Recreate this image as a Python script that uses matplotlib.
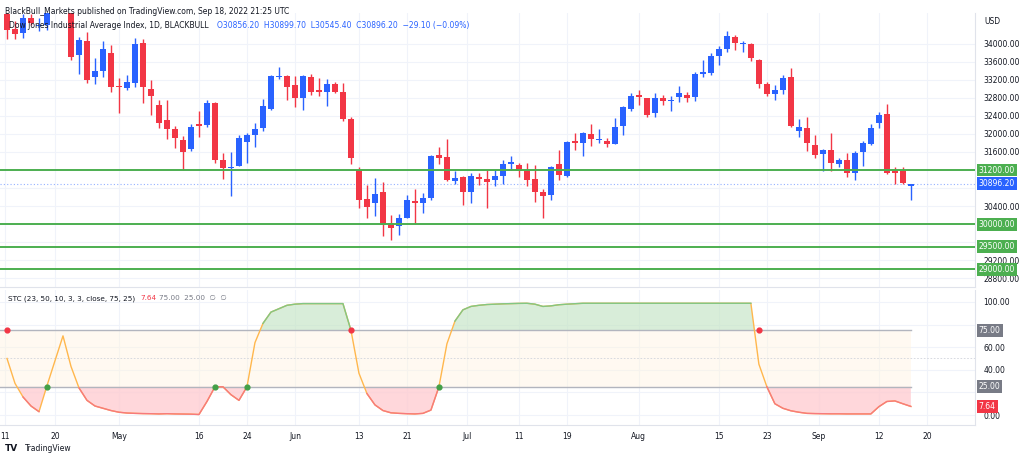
import matplotlib
matplotlib.use("Agg")
import matplotlib.pyplot as plt
import numpy as np

# daily OHLC (BLACKBULL US30, 1D), Apr 11 -> Sep 16 2022
opens = [34660, 34330, 34230, 34570, 34400, 34420, 34910, 35170, 34790, 33750,
         34050, 33260, 33400, 33800, 33070, 33020, 33120, 34010, 33000, 32640,
         32310, 32100, 31870, 31660, 32220, 32190, 32680, 31420, 31250, 31300,
         31820, 31980, 32130, 32550, 33260, 33290, 33090, 32790, 33260, 32980,
         32920, 33110, 32920, 32330, 31210, 30550, 30460, 30710, 30020, 29960,
         30140, 30520, 30460, 30570, 31530, 31480, 30960, 31040, 30720, 31050,
         30990, 30980, 31070, 31330, 31310, 31180, 31000, 30710, 30640, 31330,
         31070, 31850, 31810, 32000, 31870, 31850, 31780, 32180, 32550, 32870,
         32790, 32460, 32790, 32720, 32810, 32870, 32810, 33320, 33340, 33730,
         33880, 34150, 34000, 34000, 33630, 33110, 32890, 32980, 33260, 32070,
         32130, 31750, 31550, 31640, 31330, 31420, 31130, 31590, 31780, 32250,
         32440, 31180, 31170, 30856.2]
highs = [34700, 34500, 34660, 34670, 34580, 34950, 35250, 35490, 34870, 34150,
         34270, 33690, 34070, 33980, 33240, 33300, 34120, 34110, 33200, 32750,
         32750, 32170, 31950, 32230, 32510, 32750, 32700, 31580, 31590, 31980,
         32020, 32250, 32770, 33300, 33480, 33300, 33290, 33310, 33330, 33240,
         33220, 33150, 33130, 32370, 31270, 30870, 31030, 30940, 30200, 30220,
         30640, 30770, 30700, 31530, 31700, 31880, 31180, 31060, 31130, 31130,
         31210, 31190, 31420, 31510, 31350, 31350, 31310, 30790, 31290, 31640,
         31850, 32010, 32050, 32220, 32100, 31920, 32350, 32620, 32900, 32980,
         32800, 32900, 32870, 32830, 33060, 32930, 33380, 33650, 33790, 33950,
         34280, 34190, 34070, 34020, 33660, 33150, 33090, 33310, 33460, 32330,
         32380, 31980, 31660, 32030, 31460, 31580, 31630, 31850, 32220, 32490,
         32660, 31270, 31270, 30899.7]
lows = [34110, 34100, 34130, 34420, 34290, 34300, 34850, 34750, 33640, 33330,
        33130, 33110, 33260, 32920, 32460, 32980, 33040, 32690, 32430, 32130,
        31880, 31690, 31200, 31620, 31940, 32150, 31360, 30990, 30620, 31280,
        31350, 31720, 32060, 32530, 33220, 32750, 32590, 32530, 32870, 32830,
        32620, 32900, 32280, 31340, 30350, 30130, 30190, 29730, 29650, 29760,
        30130, 30000, 30240, 30530, 31330, 30960, 30880, 30420, 30460, 30870,
        30350, 30850, 30900, 31200, 31050, 30840, 30500, 30130, 30530, 30980,
        31050, 31640, 31510, 31730, 31810, 31710, 31770, 31980, 32500, 32640,
        32380, 32380, 32640, 32500, 32700, 32700, 32720, 33270, 33310, 33530,
        33810, 33850, 33810, 33620, 33020, 32850, 32750, 32890, 32160, 31940,
        31630, 31460, 31180, 31180, 31260, 31050, 30980, 31290, 31750, 32140,
        31110, 30890, 30890, 30545.4]
closes = [34308, 34220, 34570, 34450, 34420, 34910, 35160, 34790, 33700, 34090,
          33200, 33400, 33880, 33050, 33030, 33160, 34000, 33040, 32830, 32250,
          32120, 31920, 31610, 32150, 32180, 32680, 31420, 31240, 31270, 31900,
          31980, 32100, 32610, 33290, 33280, 33050, 32790, 33290, 32920, 32920,
          33110, 32920, 32330, 31460, 30540, 30370, 30660, 29980, 29910, 30130,
          30540, 30460, 30570, 31500, 31460, 30980, 31030, 30720, 31070, 30990,
          30940, 31070, 31330, 31370, 31180, 30980, 30710, 30620, 31270, 31090,
          31830, 31810, 32010, 31880, 31890, 31780, 32160, 32590, 32840, 32820,
          32420, 32790, 32740, 32750, 32900, 32790, 33330, 33380, 33730, 33880,
          34170, 34020, 34010, 33690, 33110, 32890, 32980, 33240, 32180, 32150,
          31810, 31530, 31640, 31360, 31420, 31140, 31570, 31790, 32130, 32420,
          31130, 31140, 30910, 30896.2]

stc = [50, 28, 16, 8, 3, 26, 48, 70, 43, 24,
       13, 8, 6, 4, 2.5, 1.8, 1.5, 1.3, 1.2, 1.0,
       1.2, 1.0, 0.9, 0.8, 0.5, 12, 25, 25, 18, 13,
       25, 64, 81, 91, 94, 97, 98, 98.5, 98.5, 98.5,
       98.5, 98.5, 98.5, 75, 37, 19, 9, 4, 2, 1.5,
       1.2, 1, 1.5, 4.4, 25, 63, 83, 93, 96, 97,
       97.7, 98, 98.3, 98.5, 98.7, 98.8, 98, 96, 96.5, 97.5,
       98, 98.4, 98.8, 98.8, 98.8, 98.8, 98.8, 98.8, 98.8, 98.8,
       98.8, 98.8, 98.8, 98.8, 98.8, 98.8, 98.8, 98.8, 98.8, 98.8,
       98.8, 98.8, 98.8, 98.8, 45, 25, 10, 6, 3.8, 2.5,
       1.5, 1.3, 1.2, 1.1, 1.1, 1, 1, 1, 1, 7.4,
       12, 12.5, 10, 7.64]
cross_down = [0, 43, 94]
cross_up = [5, 26, 30, 54]

levels = [31200, 30000, 29500, 29000]
last_price = 30896.20
price_ticks = [28800, 29200, 29600, 30000, 30400, 30800, 31200, 31600,
               32000, 32400, 32800, 33200, 33600, 34000]
hidden_price_ticks = [29600, 30000, 30800, 31200]   # covered by the level tags
stc_ticks = [0, 20, 40, 60, 80, 100]
hidden_stc_ticks = [20, 80]
date_pos = [-0.25, 6, 14, 24, 30, 36, 44, 50, 57.5, 64, 70, 79, 89, 95, 101.5, 109, 115]
date_labels = ["11", "20", "May", "16", "24", "Jun", "13", "21", "Jul", "11",
               "19", "Aug", "15", "23", "Sep", "12", "20"]

BLUE = "#2962ff"
RED = "#f23645"
GREEN = "#4caf50"
GRID = "#f0f3fa"
TXT = "#131722"

fig = plt.figure(figsize=(10.24, 4.58), dpi=100)
ax = fig.add_axes([0.0, 0.373, 0.952, 0.599])
ax2 = fig.add_axes([0.0, 0.072, 0.952, 0.295], sharex=ax)

x = np.arange(len(closes))
o = np.array(opens); c = np.array(closes)
colors = [BLUE if cc >= oo else RED for oo, cc in zip(o, c)]
bottoms = np.minimum(o, c)
heights = np.maximum(np.abs(c - o), 8)
ax.vlines(x, lows, highs, colors=colors, linewidth=1, zorder=3)
ax.bar(x, heights, bottom=bottoms, width=0.7, color=colors, zorder=4)

for lv in levels:
    ax.axhline(lv, color=GREEN, linewidth=1.4, zorder=5)
ax.axhline(last_price, color=BLUE, linewidth=0.8, linestyle=(0, (1, 2)), alpha=0.5, zorder=2)

ax.set_ylim(28603, 34685)
ax.set_xlim(-0.875, 121)
ax.set_yticks(price_ticks)
ax.set_yticklabels(["" if t in hidden_price_ticks else "%.2f" % t for t in price_ticks])
ax.yaxis.tick_right()
ax.tick_params(axis="y", length=0, labelsize=5.5, labelcolor=TXT, pad=6)
ax.tick_params(axis="x", length=0, labelbottom=False)
ax.set_xticks(date_pos)
ax.grid(True, color=GRID, linewidth=0.8)
ax.set_axisbelow(True)
for sp in ["top", "left"]:
    ax.spines[sp].set_visible(False)
ax.spines["right"].set_color("#e0e3eb")
ax.spines["bottom"].set_color("#e0e3eb")

def tag(axis, y, text, fc):
    axis.text(1.004, y, text, transform=axis.get_yaxis_transform(), fontsize=5.5,
              color="white", va="center", ha="left", zorder=10, clip_on=False,
              bbox=dict(boxstyle="square,pad=0.25", fc=fc, ec="none"))

for lv in levels:
    tag(ax, lv, "%.2f" % lv, GREEN)
tag(ax, last_price, "%.2f" % last_price, BLUE)
ax.text(1.01, 0.985, "USD", transform=ax.transAxes, fontsize=5.5, color=TXT,
        va="top", clip_on=False)

# STC pane
s = np.array(stc)
ax2.fill_between([-0.875, x[-1]], 25, 75, color="#fff3e0", alpha=0.45, linewidth=0)
ax2.fill_between(x, s, 75, where=s >= 75, interpolate=True, color="#c8e6c9", alpha=0.7, linewidth=0)
ax2.fill_between(x, s, 25, where=s <= 25, interpolate=True, color="#ffcdd2", alpha=0.8, linewidth=0)
ax2.plot([-0.875, x[-1]], [75, 75], color="#b2b5be", linewidth=1)
ax2.plot([-0.875, x[-1]], [25, 25], color="#b2b5be", linewidth=1)
ax2.axhline(50, color="#d1d4dc", linewidth=0.6, linestyle=(0, (2, 2)))
ax2.plot(x, s, color="#ffb74d", linewidth=1, zorder=3)
ax2.plot(x, np.ma.masked_where(s < 75, s), color="#81c784", linewidth=1, zorder=4)
ax2.plot(x, np.ma.masked_where(s > 25, s), color="#f7797d", linewidth=1, zorder=4)
ax2.scatter(cross_down, [75] * len(cross_down), s=12, color=RED, zorder=6)
ax2.scatter(cross_up, [25] * len(cross_up), s=12, color="#43a047", zorder=6)
ax2.set_ylim(-8.8, 110.6)
ax2.set_yticks(stc_ticks)
ax2.set_yticklabels(["" if t in hidden_stc_ticks else "%.2f" % t for t in stc_ticks])
ax2.yaxis.tick_right()
ax2.tick_params(axis="y", length=0, labelsize=5.5, labelcolor=TXT, pad=6)
ax2.set_xticks(date_pos)
ax2.set_xticklabels(date_labels)
ax2.tick_params(axis="x", length=0, labelsize=5.5, labelcolor=TXT, pad=5)
ax2.grid(True, color=GRID, linewidth=0.8)
ax2.set_axisbelow(True)
for sp in ["top", "left"]:
    ax2.spines[sp].set_visible(False)
ax2.spines["right"].set_color("#e0e3eb")
ax2.spines["bottom"].set_color("#e0e3eb")
tag(ax2, 75, "75.00", "#787b86")
tag(ax2, 25, "25.00", "#787b86")
tag(ax2, stc[-1], "%.2f" % stc[-1], RED)

# header texts, the second part of each line placed after the first one
fig.text(0.005, 0.985, "BlackBull_Markets published on TradingView.com, Sep 18, 2022 21:25 UTC",
         fontsize=5.5, color=TXT, va="top")
title = fig.text(0.009, 0.955, "Dow Jones Industrial Average Index, 1D, BLACKBULL",
                 fontsize=5.5, color=TXT, va="top")
stc_lbl = fig.text(0.008, 0.355, "STC (23, 50, 10, 3, 3, close, 75, 25)", fontsize=5.2,
                   color=TXT, va="top")
fig.canvas.draw()
W = fig.bbox.width
bb = title.get_window_extent()
fig.text((bb.x1 + 8) / W, bb.y0 / fig.bbox.height,
         "O30856.20  H30899.70  L30545.40  C30896.20  \u221229.10 (\u22120.09%)",
         fontsize=5.5, color=BLUE, va="bottom")
bb = stc_lbl.get_window_extent()
fig.text((bb.x1 + 5) / W, 0.355, "7.64", fontsize=5.2, color=RED, va="top")
fig.text((bb.x1 + 24) / W, 0.355, "75.00  25.00  \u2205  \u2205", fontsize=5.2,
         color="#787b86", va="top")
fig.text(0.005, 0.02, "TV", fontsize=6.5, color=TXT, weight="bold", va="center")
fig.text(0.024, 0.02, "TradingView", fontsize=5.5, color=TXT, va="center")

fig.savefig("out.png", dpi=100, facecolor="white")
